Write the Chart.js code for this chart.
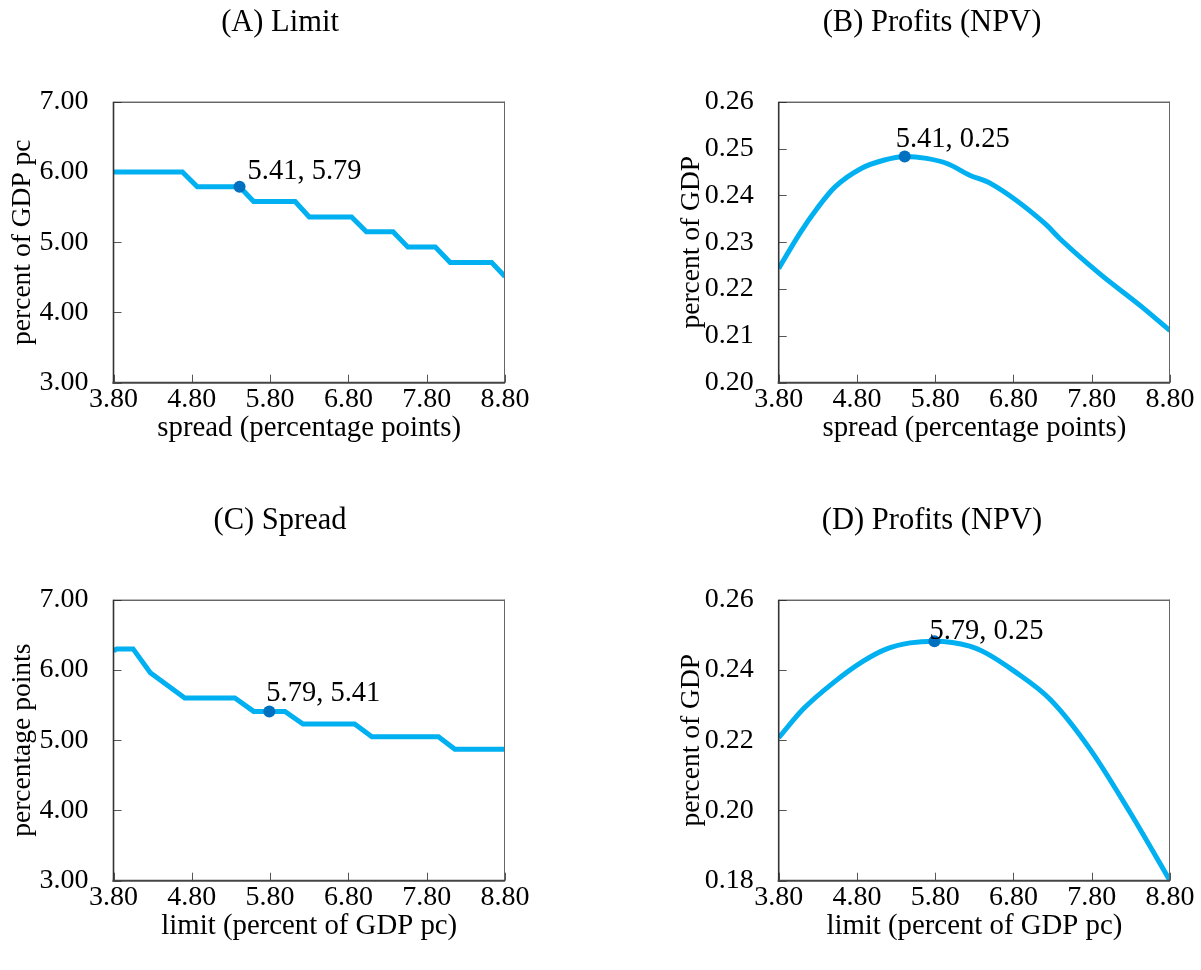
<!DOCTYPE html>
<html><head><meta charset="utf-8">
<script src="https://cdn.jsdelivr.net/npm/chart.js@4.4.1/dist/chart.umd.min.js"></script>
<style>
html,body{margin:0;padding:0;background:#fff;width:1201px;height:970px;overflow:hidden;}
canvas{position:absolute;display:block;}
</style></head><body>
<canvas id="ca" width="560" height="460" style="left:0;top:0"></canvas>
<canvas id="cb" width="538" height="460" style="left:663px;top:0"></canvas>
<canvas id="cc" width="560" height="460" style="left:0;top:498px"></canvas>
<canvas id="cd" width="538" height="460" style="left:663px;top:498px"></canvas>
<script>
// ---- data ----
const xTicks = [3.80, 4.80, 5.80, 6.80, 7.80, 8.80];
const yTicksLevel = [3.00, 4.00, 5.00, 6.00, 7.00];
const yTicksProfitB = [0.20, 0.21, 0.22, 0.23, 0.24, 0.25, 0.26];
const yTicksProfitD = [0.18, 0.20, 0.22, 0.24, 0.26];

const panelTitles = ['(A) Limit', '(B) Profits (NPV)', '(C) Spread', '(D) Profits (NPV)'];
const xTitles = ['spread (percentage points)', 'spread (percentage points)', 'limit (percent of GDP pc)', 'limit (percent of GDP pc)'];
const yTitles = ['percent of GDP pc', 'percent of GDP', 'percentage points', 'percent of GDP'];

// (A) limit vs spread
const spreadA = [3.80, 4.68, 4.87, 5.41, 5.59, 6.12, 6.30, 6.84, 7.03, 7.37, 7.56, 7.91, 8.10, 8.63, 8.80];
const limitA  = [6.00, 6.00, 5.79, 5.79, 5.58, 5.58, 5.36, 5.36, 5.15, 5.15, 4.93, 4.93, 4.71, 4.71, 4.51];
// (B) profits vs spread
const spreadB = [3.80, 4.07, 4.29, 4.52, 4.86, 5.14, 5.41, 5.69, 5.95, 6.24, 6.50, 7.20, 7.39, 7.90, 8.44, 8.80];
const profitB = [0.2244, 0.2319, 0.2372, 0.2418, 0.2458, 0.2475, 0.2483, 0.2479, 0.2468, 0.2443, 0.2426, 0.2340, 0.2308, 0.2233, 0.2162, 0.2111];
// (C) spread vs limit
const limitC  = [3.80, 3.84, 4.05, 4.27, 4.71, 5.35, 5.59, 5.79, 5.99, 6.22, 6.88, 7.10, 7.95, 8.16, 8.80];
const spreadC = [6.27, 6.30, 6.30, 5.96, 5.60, 5.60, 5.41, 5.41, 5.41, 5.23, 5.23, 5.05, 5.05, 4.87, 4.87];
// (D) profits vs limit
const limitD  = [3.80, 4.11, 4.50, 4.88, 5.18, 5.48, 5.79, 6.24, 6.45, 6.80, 7.27, 7.78, 8.29, 8.80];
const profitD = [0.2207, 0.2288, 0.2364, 0.2425, 0.2460, 0.2477, 0.2482, 0.2468, 0.2448, 0.2398, 0.2316, 0.2174, 0.1994, 0.1800];

// optimum markers
const optX = [5.41, 5.41, 5.79, 5.79];
const optY = [5.79, 0.2483, 5.41, 0.2482];
const optLabels = ['5.41, 5.79', '5.41, 0.25', '5.79, 5.41', '5.79, 0.25'];

// ---- style ----
const FONT = 'Liberation Serif';
const FS_TICK = 28, FS_TITLE = 30.5, FS_XT = 28.8, FS_YT = 27.5, FS_LAB = 28.5;
Chart.defaults.font.family = FONT;
Chart.defaults.font.size = FS_TICK;
Chart.defaults.color = '#000';

const framePlugin = {
  id: 'frame',
  beforeDatasetsDraw(chart) {
    const {ctx, chartArea: a, scales} = chart;
    ctx.save();
    ctx.strokeStyle = '#555';
    ctx.lineWidth = 1;
    ctx.beginPath();
    scales.x.ticks.forEach(t => {
      const px = Math.round(scales.x.getPixelForValue(t.value)) + 0.5;
      ctx.moveTo(px, a.bottom); ctx.lineTo(px, a.bottom - 8);
    });
    scales.y.ticks.forEach(t => {
      const py = Math.round(scales.y.getPixelForValue(t.value)) + 0.5;
      ctx.moveTo(a.left, py); ctx.lineTo(a.left + 8, py);
    });
    ctx.stroke();
    ctx.restore();
  },
  afterDatasetsDraw(chart, args, o) {
    const {ctx, chartArea: a, scales} = chart;
    ctx.save();
    ctx.strokeStyle = '#222'; ctx.lineWidth = 1;
    ctx.beginPath(); ctx.moveTo(a.left, a.top + 0.5); ctx.lineTo(a.right, a.top + 0.5); ctx.stroke();
    ctx.strokeStyle = '#666';
    ctx.beginPath(); ctx.moveTo(a.right - 0.5, a.top); ctx.lineTo(a.right - 0.5, a.bottom); ctx.stroke();
    ctx.strokeStyle = '#333'; ctx.lineWidth = 1.6;
    ctx.beginPath(); ctx.moveTo(a.left, a.top); ctx.lineTo(a.left, a.bottom + 1); ctx.stroke();
    ctx.strokeStyle = '#444'; ctx.lineWidth = 2;
    ctx.beginPath(); ctx.moveTo(a.left - 1, a.bottom); ctx.lineTo(a.right, a.bottom); ctx.stroke();
    const px = scales.x.getPixelForValue(o.x);
    const py = scales.y.getPixelForValue(o.y);
    ctx.font = FS_LAB + 'px "' + FONT + '"';
    ctx.fillStyle = '#000';
    ctx.textAlign = 'left';
    ctx.textBaseline = 'alphabetic';
    ctx.fillText(o.text, px + o.dx, py + o.dy + 0.338 * FS_LAB);
    ctx.restore();
  }
};

function makeChart(id, i, xs, ys, yMin, yMax, yTicks, tension, geom) {
  const line = xs.map((x, k) => ({x: x, y: ys[k]}));
  new Chart(document.getElementById(id), {
    type: 'line',
    data: {
      datasets: [
        {data: line, borderColor: '#00B0F0', borderWidth: 5, pointRadius: 0, tension: tension,
         cubicInterpolationMode: tension ? 'monotone' : 'default', clip: 0, borderJoinStyle: 'miter', order: 2},
        {data: [{x: optX[i], y: optY[i]}], showLine: false, pointRadius: 6, pointBackgroundColor: '#0070C0',
         pointBorderColor: '#0070C0', pointBorderWidth: 0, order: 1, clip: false}
      ]
    },
    options: {
      responsive: false, animation: false, events: [],
      layout: {padding: 0},
      plugins: {
        legend: {display: false}, tooltip: {enabled: false},
        title: {display: true, text: panelTitles[i], color: '#000', font: {size: FS_TITLE, weight: 'normal'},
                padding: {top: 4.7, bottom: 60.4}},
        frame: {x: optX[i], y: optY[i], text: optLabels[i], dx: geom.dx, dy: geom.dy}
      },
      scales: {
        x: {
          type: 'linear', min: 3.8, max: 8.8,
          afterBuildTicks: s => { s.ticks = xTicks.map(v => ({value: v})); },
          afterFit: s => { s.height = 77.3; },
          grid: {display: false, drawTicks: false, tickLength: 0},
          border: {display: false},
          ticks: {padding: 0.5, color: '#000', maxRotation: 0, autoSkip: false, callback: v => Number(v).toFixed(2)},
          title: {display: true, text: xTitles[i], color: '#000', font: {size: FS_XT}, padding: {top: 0, bottom: 14.7}}
        },
        y: {
          type: 'linear', min: yMin, max: yMax,
          afterBuildTicks: s => { s.ticks = yTicks.map(v => ({value: v})); },
          afterFit: s => { s.width = geom.yw; },
          grid: {display: false, drawTicks: false, tickLength: 0},
          border: {display: false},
          ticks: {padding: 25, color: '#000', autoSkip: false, callback: v => Number(v).toFixed(2)},
          title: {display: true, text: yTitles[i], color: '#000', font: {size: FS_YT}, padding: {top: geom.yt, bottom: 0}}
        },
        rightSpace: {
          type: 'linear', position: 'right', display: true,
          afterFit: s => { s.width = geom.right; },
          grid: {display: false, drawTicks: false}, border: {display: false},
          ticks: {display: false}, title: {display: false}
        }
      }
    },
    plugins: [framePlugin]
  });
}

makeChart('ca', 0, spreadA, limitA, 3, 7, yTicksLevel, 0, {right: 55, yw: 113.5, yt: 6.5, dx: 8, dy: -17});
makeChart('cb', 1, spreadB, profitB, 0.20, 0.26, yTicksProfitB, 0.3, {right: 31, yw: 115.7, yt: 12.7, dx: -9, dy: -19});
makeChart('cc', 2, limitC, spreadC, 3, 7, yTicksLevel, 0, {right: 55, yw: 113.5, yt: 6.5, dx: -3, dy: -20});
makeChart('cd', 3, limitD, profitD, 0.18, 0.26, yTicksProfitD, 0.3, {right: 31, yw: 115.7, yt: 12.7, dx: -5, dy: -12});
</script>
</body></html>
